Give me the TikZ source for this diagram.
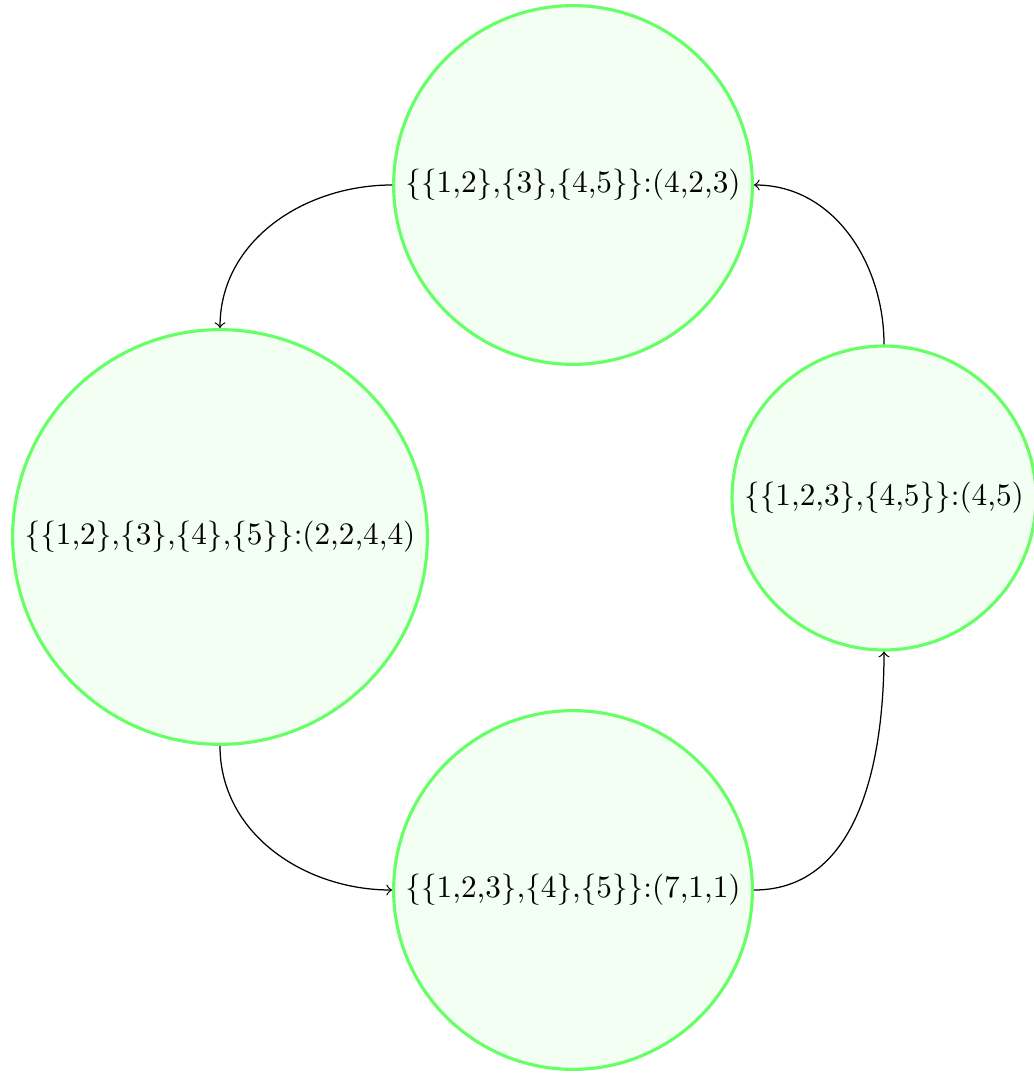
\documentclass[tikz,border=0pt]{standalone}
\usetikzlibrary{arrows}
\begin{document}
\begin{tikzpicture}[x=0.32pt,y=-0.32pt,
  state/.style={circle,draw=green!60,fill=green!5,line width=1pt},
  conn/.style={->}]
\useasboundingbox (0,0) rectangle (1033,1074);
\node[state] (top) at (573,185) {\{\{1,2\},\{3\},\{4,5\}\}:(4,2,3)};
\node[state] (left) at (220,537) {\{\{1,2\},\{3\},\{4\},\{5\}\}:(2,2,4,4)};
\node[state] (right) at (884,498) {\{\{1,2,3\},\{4,5\}\}:(4,5)};
\node[state] (bottom) at (573,890) {\{\{1,2,3\},\{4\},\{5\}\}:(7,1,1)};
\draw[conn] (top.west) to[out=180,in=90] (left.north);
\draw[conn] (left.south) to[out=-90,in=180] (bottom.west);
\draw[conn] (bottom.east) to[out=0,in=-90] (right.south);
\draw[conn] (right.north) to[out=90,in=0] (top.east);
\end{tikzpicture}
\end{document}
